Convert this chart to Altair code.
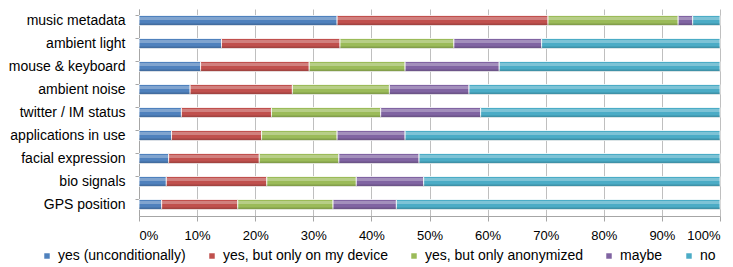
import altair as alt
import pandas as pd

categories = ["music metadata", "ambient light", "mouse & keyboard", "ambient noise",
              "twitter / IM status", "applications in use", "facial expression",
              "bio signals", "GPS position"]
series = ["yes (unconditionally)", "yes, but only on my device",
          "yes, but only anonymized", "maybe", "no"]
colors = ["#4F81BD", "#C0504D", "#9BBB59", "#8064A2", "#4BACC6"]

yes_uncond = [34.1, 14.2, 10.6, 8.8, 7.3, 5.6, 5.1, 4.7, 3.9]
yes_device = [36.3, 20.4, 18.7, 17.6, 15.5, 15.5, 15.6, 17.3, 13.1]
yes_anon = [22.4, 19.6, 16.5, 16.7, 18.8, 13.0, 13.7, 15.4, 16.4]
maybe = [2.5, 15.1, 16.2, 13.7, 17.2, 11.7, 13.8, 11.6, 10.9]
no = [4.7, 30.7, 38.0, 43.2, 41.2, 54.2, 51.8, 51.0, 55.7]

rows = []
for si, (s, vals) in enumerate(zip(series, [yes_uncond, yes_device, yes_anon, maybe, no])):
    for c, v in zip(categories, vals):
        rows.append({"category": c, "series": s, "order": si, "value": v})
df = pd.DataFrame(rows)

FONT = "Liberation Sans"

xenc = alt.X("value:Q", stack="normalize", title=None,
             scale=alt.Scale(domain=[0, 1], nice=False),
             axis=alt.Axis(format=".0%", values=[i / 10 for i in range(11)],
                           labelFontSize=13, labelFont=FONT, labelColor="#000000",
                           grid=True, gridColor="#BFBFBF", gridWidth=1,
                           domainColor="#A6A6A6", tickColor="#A6A6A6", tickSize=5,
                           labelPadding=8))

base = alt.Chart(df).encode(
    y=alt.Y("category:N", sort=categories, title=None,
            scale=alt.Scale(paddingInner=0.6, paddingOuter=0.3),
            axis=alt.Axis(labelFontSize=14, labelFont=FONT, labelColor="#000000",
                          labelPadding=10, domainColor="#A6A6A6", tickColor="#A6A6A6",
                          tickSize=4, bandPosition=0)),
    order=alt.Order("order:Q"),
    x=xenc,
)

bars = base.mark_bar(size=10, stroke="white", strokeWidth=1, strokeOpacity=0.8).encode(
    color=alt.Color("series:N", sort=series,
                    scale=alt.Scale(domain=series, range=colors),
                    legend=alt.Legend(title=None, orient="none", direction="horizontal",
                                      columns=5, legendX=-99, legendY=240,
                                      symbolType="square", symbolSize=30,
                                      symbolStrokeWidth=0, labelLimit=0,
                                      labelFontSize=14, labelFont=FONT,
                                      labelColor="#000000", columnPadding=19,
                                      labelOffset=4)),
)

highlight = base.mark_bar(size=3, color="white", opacity=0.28, yOffset=-2)
shade = base.mark_bar(size=2, color="black", opacity=0.15, yOffset=4)

chart = alt.layer(bars, highlight, shade).properties(
    width=581, height=207,
    autosize=alt.AutoSizeParams(type="none"),
    padding={"left": 131, "top": 1, "right": 5, "bottom": 50},
).configure_view(stroke=None)

chart.save("out.html", embed_options={"renderer": "svg", "actions": False})
